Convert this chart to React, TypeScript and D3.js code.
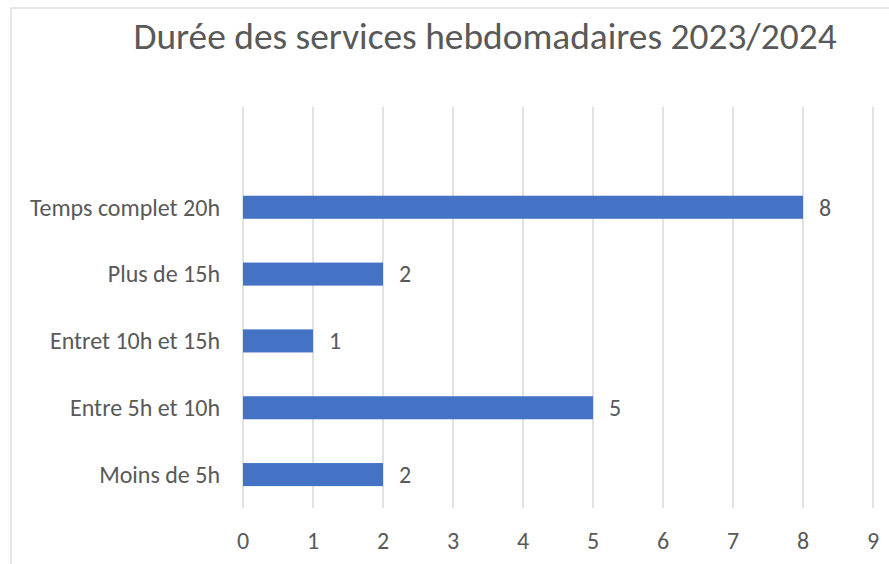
import React from 'react'
import * as d3 from 'd3'

// values
const categories = ['Temps complet 20h', 'Plus de 15h', 'Entret 10h et 15h', 'Entre 5h et 10h', 'Moins de 5h']
const values = [8, 2, 1, 5, 2]
const xTicks = [0, 1, 2, 3, 4, 5, 6, 7, 8, 9]
const title = 'Durée des services hebdomadaires 2023/2024'

const width = 889
const height = 564
const font = 'Carlito, Calibri, "Open Sans", sans-serif'
const textColor = '#595959'

export default function App() {
  // plot box
  const left = 243
  const right = 873
  const top = 107
  const bottom = 508

  const xScale = d3.scaleLinear().domain([0, 9]).range([left, right])

  // Excel leaves one empty slot above the first category
  const yScale = d3.scaleBand<string>()
    .domain(['', ...categories])
    .range([top, bottom])
    .padding(0)

  const band = yScale.bandwidth()
  const barH = band * 0.345

  return (
    <svg width={width} height={height} style={{ position: 'absolute', left: 0, top: 0, background: '#fff' }}>
      <rect x={11} y={8} width={width} height={height} fill="#fff" stroke="#d9d9d9" strokeWidth={1.3} />
      <text x={485} y={49} textAnchor="middle" fontFamily={font} fontSize={37.4} fill={textColor}>{title}</text>

      {/* vertical gridlines */}
      <g>
        {xTicks.map((t) => (
          <line key={t} x1={xScale(t)} x2={xScale(t)} y1={top} y2={bottom} stroke="#d9d9d9" strokeWidth={1.5} />
        ))}
      </g>

      {/* bars and data labels */}
      <g>
        {categories.map((c, i) => {
          const y = (yScale(c) || 0) + (band - barH) / 2
          return (
            <g key={c}>
              <rect x={xScale(0)} y={y} width={xScale(values[i]) - xScale(0)} height={barH} fill="#4472c4" />
              <text x={xScale(values[i]) + 16} y={y + barH / 2} dy="0.35em" fontFamily={font} fontSize={24} fill={textColor}>
                {values[i]}
              </text>
              <text x={220} y={y + barH / 2} dy="0.35em" textAnchor="end" fontFamily={font} fontSize={24} fill={textColor}>
                {c}
              </text>
            </g>
          )
        })}
      </g>

      {/* x tick labels */}
      <g>
        {xTicks.map((t) => (
          <text key={t} x={xScale(t)} y={541} dy="0.35em" textAnchor="middle" fontFamily={font} fontSize={24} fill={textColor}>
            {t}
          </text>
        ))}
      </g>
    </svg>
  )
}
